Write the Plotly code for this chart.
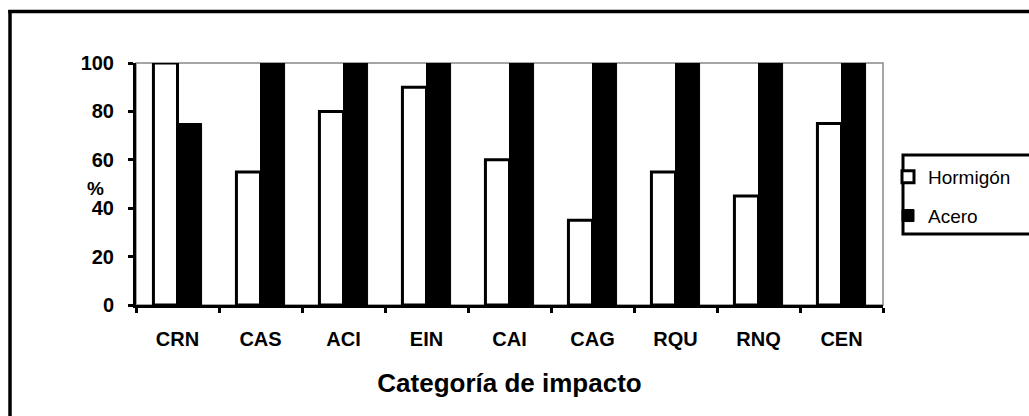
import plotly.graph_objects as go

categories = ["CRN", "CAS", "ACI", "EIN", "CAI", "CAG", "RQU", "RNQ", "CEN"]
hormigon = [100, 55, 80, 90, 60, 35, 55, 45, 75]
acero = [75, 100, 100, 100, 100, 100, 100, 100, 100]
y_ticks = [0, 20, 40, 60, 80, 100]

W, H = 1029, 416
L, R, T, B = 136, 146, 63, 111
pw, ph = W - L - R, H - T - B

def px_x(x):
    return (x - L) / pw

def px_y(y):
    return 1 - (y - T) / ph

FONT = "Arial, 'Liberation Sans', sans-serif"

fig = go.Figure()
fig.add_trace(go.Bar(
    x=categories, y=hormigon, name="Hormigón",
    marker=dict(color="white", line=dict(color="black", width=3)),
    legendgroup="h",
))
fig.add_trace(go.Bar(
    x=categories, y=acero, name="Acero",
    marker=dict(color="black", line=dict(color="black", width=1)),
    legendgroup="a",
))

fig.update_layout(
    width=W, height=H,
    margin=dict(l=L, r=R, t=T, b=B),
    paper_bgcolor="white", plot_bgcolor="white",
    barmode="group", bargap=0.42, bargroupgap=0,
    font=dict(family=FONT, color="black"),
    showlegend=True,
    legend=dict(
        x=px_x(888), y=px_y(158), xanchor="left", yanchor="top",
        borderwidth=0, bgcolor="rgba(0,0,0,0)",
        font=dict(family=FONT, size=19, color="black"),
        tracegroupgap=11, itemwidth=30,
    ),
    xaxis=dict(
        type="category", tickson="boundaries", automargin=False,
        showline=True, linecolor="black", linewidth=3,
        ticks="outside", ticklen=5, tickwidth=3, tickcolor="black",
        tickfont=dict(family=FONT, size=20, color="black", weight="bold"),
        ticklabelstandoff=14,
        showgrid=False, zeroline=False,
        title=dict(text="Categoría de impacto",
                   font=dict(family=FONT, size=26, color="black", weight="bold"),
                   standoff=25),
    ),
    yaxis=dict(
        range=[0, 100], tickvals=y_ticks, automargin=False,
        showline=True, linecolor="black", linewidth=3,
        ticks="outside", ticklen=5, tickwidth=3, tickcolor="black",
        tickfont=dict(family=FONT, size=20, color="black", weight="bold"),
        ticklabelstandoff=10,
        showgrid=False, zeroline=False,
    ),
    shapes=[
        dict(type="rect", xref="paper", yref="paper", x0=0, x1=1, y0=0, y1=1,
             line=dict(color="#888888", width=1.5), layer="below"),
        # outer frame (left and top edges visible in the picture)
        dict(type="line", xref="paper", yref="paper",
             x0=px_x(10), x1=px_x(10), y0=px_y(10), y1=px_y(430),
             line=dict(color="black", width=3.5)),
        dict(type="line", xref="paper", yref="paper",
             x0=px_x(8.3), x1=px_x(1100), y0=px_y(11.5), y1=px_y(11.5),
             line=dict(color="black", width=3.5)),
        # legend frame
        dict(type="rect", xref="paper", yref="paper",
             x0=px_x(903), x1=px_x(1100), y0=px_y(234), y1=px_y(155),
             line=dict(color="black", width=3), fillcolor="rgba(0,0,0,0)"),
    ],
    annotations=[
        dict(text="%", xref="paper", yref="paper", x=px_x(95), y=px_y(188),
             showarrow=False, xanchor="center", yanchor="middle",
             font=dict(family=FONT, size=19, color="black", weight="bold")),
    ],
)

fig.write_html("out.html")
